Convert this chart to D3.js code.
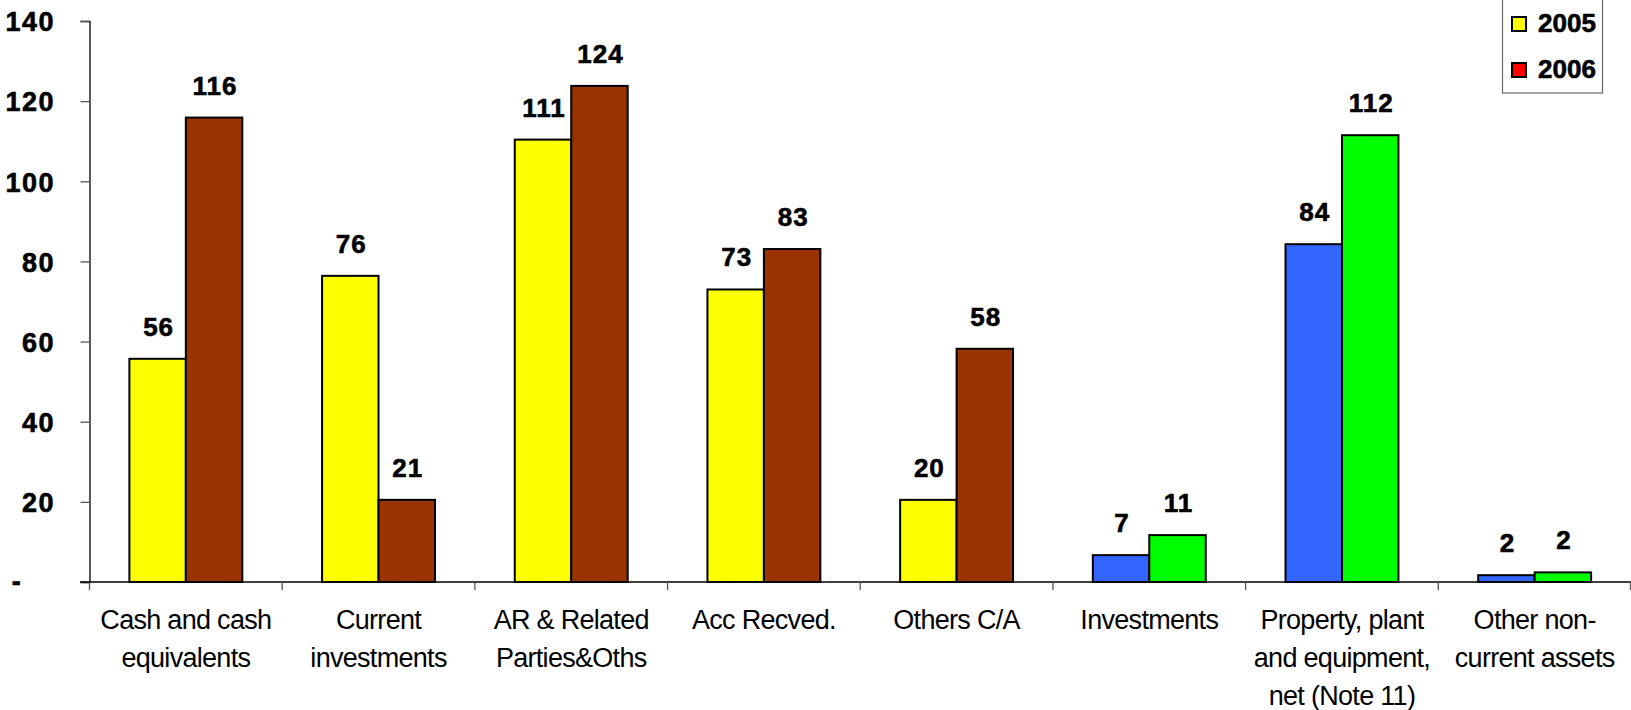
<!DOCTYPE html>
<html>
<head>
<meta charset="utf-8">
<script src="https://cdn.jsdelivr.net/npm/d3@7/dist/d3.min.js"></script>
<style>
  html, body { margin: 0; padding: 0; background: #fff; }
  svg { display: block; font-family: "Liberation Sans", Arial, sans-serif; }
</style>
</head>
<body>
<svg id="chart" width="1631" height="710"></svg>
<script>
// ---- data ----
const categories = [
  "Cash and cash\nequivalents",
  "Current\ninvestments",
  "AR & Related\nParties&Oths",
  "Acc Recved.",
  "Others C/A",
  "Investments",
  "Property, plant\nand equipment,\nnet (Note 11)",
  "Other non-\ncurrent assets"
];
const series = ["2005", "2006"];
const values2005 = [55.7, 76.4, 110.4, 73.0, 20.5, 6.7, 84.3, 1.7];
const values2006 = [115.9, 20.5, 123.8, 83.1, 58.2, 11.7, 111.5, 2.4];
const labels2005 = ["56", "76", "111", "73", "20", "7", "84", "2"];
const labels2006 = ["116", "21", "124", "83", "58", "11", "112", "2"];
const yTicks = [0, 20, 40, 60, 80, 100, 120, 140];

// ---- styles ----
const fill2005 = ["#FFFF00", "#FFFF00", "#FFFF00", "#FFFF00", "#FFFF00", "#3366FF", "#3366FF", "#3366FF"];
const fill2006 = ["#993300", "#993300", "#993300", "#993300", "#993300", "#00FF00", "#00FF00", "#00FF00"];
const legendFill = ["#FFFF00", "#FF0000"];

const svg = d3.select("#chart");
const axisX = 89.5, baseY = 582, topY = 21, rightX = 1631;

const x = d3.scaleBand().domain(d3.range(categories.length)).range([axisX, rightX]).padding(0);
const y = d3.scaleLinear().domain([0, 140]).range([baseY, topY]);

const bw = x.bandwidth();
const barW = bw * 0.293;
const barOff = bw * 0.207;

// y axis
const yAxis = d3.axisLeft(y).tickValues(yTicks).tickSize(9).tickPadding(25.5)
  .tickFormat(d => d === 0 ? "-" : d);
const gy = svg.append("g").attr("transform", `translate(${axisX},0)`).call(yAxis);
gy.select(".domain").attr("stroke", "#000").attr("stroke-width", 1.3);
gy.selectAll(".tick line").attr("stroke", "#555").attr("stroke-width", 1.3);
gy.selectAll(".tick text")
  .attr("fill", "#000").attr("stroke", "#000").attr("stroke-width", 0.6)
  .style("font-size", "27px").style("font-weight", "bold").style("letter-spacing", "1.5px")
  .attr("dy", "0.36em");
gy.selectAll(".tick").filter(d => d === 0).select("text")
  .attr("x", -72.5).attr("text-anchor", "middle").attr("dy", "0.3em");

// x axis
const xAxis = d3.axisBottom(x).tickSize(0).tickFormat("");
const gx = svg.append("g").attr("transform", `translate(0,${baseY})`).call(xAxis);
gx.select(".domain").remove();
gx.append("line").attr("x1", 80).attr("x2", rightX).attr("y1", 0).attr("y2", 0)
  .attr("stroke", "#000").attr("stroke-width", 1.3);
const bounds = d3.range(categories.length + 1).map(i => i < categories.length ? x(i) : rightX - 0.5);
gx.selectAll(".bnd").data(bounds).enter().append("line")
  .attr("x1", d => d).attr("x2", d => d).attr("y1", 0).attr("y2", 8)
  .attr("stroke", "#555").attr("stroke-width", 1.3);

// category labels
const lab = svg.append("g");
categories.forEach((c, i) => {
  const cx = x(i) + bw / 2;
  const t = lab.append("text").attr("x", cx).attr("y", baseY + 47)
    .attr("text-anchor", "middle").style("font-size", "27px").style("letter-spacing", "-0.7px")
    .attr("fill", "#000");
  c.split("\n").forEach((line, k) => {
    t.append("tspan").attr("x", cx).attr("dy", k === 0 ? 0 : 38).text(line);
  });
});

// bars
const bars = svg.append("g");
const sets = [
  { vals: values2005, labels: labels2005, fills: fill2005, off: barOff },
  { vals: values2006, labels: labels2006, fills: fill2006, off: barOff + barW }
];
sets.forEach(s => {
  bars.selectAll(null).data(s.vals).enter().append("rect")
    .attr("x", (d, i) => x(i) + s.off)
    .attr("y", d => y(d))
    .attr("width", barW)
    .attr("height", d => baseY - y(d))
    .attr("fill", (d, i) => s.fills[i])
    .attr("stroke", "#000").attr("stroke-width", 2);
  bars.selectAll(null).data(s.vals).enter().append("text")
    .attr("x", (d, i) => x(i) + s.off + barW / 2 + 1)
    .attr("y", d => y(d) - 23)
    .attr("text-anchor", "middle")
    .style("font-size", "26px").style("font-weight", "bold").style("letter-spacing", "1px")
    .attr("fill", "#000").attr("stroke", "#000").attr("stroke-width", 0.6)
    .text((d, i) => s.labels[i]);
});

// legend
const lg = svg.append("g");
lg.append("rect").attr("x", 1502.5).attr("y", -2).attr("width", 100).attr("height", 95)
  .attr("fill", "#fff").attr("stroke", "#666").attr("stroke-width", 1.2);
series.forEach((s, k) => {
  const yy = 17 + k * 46;
  lg.append("rect").attr("x", 1512).attr("y", yy).attr("width", 14).attr("height", 14)
    .attr("fill", legendFill[k]).attr("stroke", "#000").attr("stroke-width", 2);
  lg.append("text").attr("x", 1538).attr("y", yy + 15)
    .style("font-size", "26px").style("font-weight", "bold")
    .attr("fill", "#000").attr("stroke", "#000").attr("stroke-width", 0.6).text(s);
});
</script>
</body>
</html>
